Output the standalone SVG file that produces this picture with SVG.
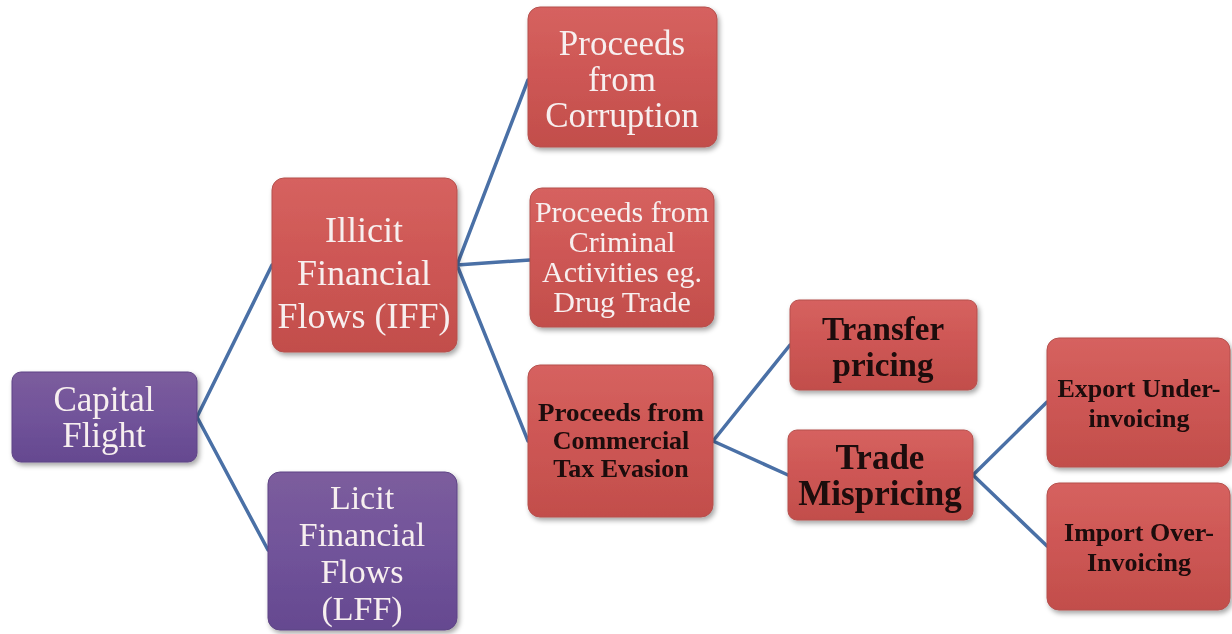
<svg xmlns="http://www.w3.org/2000/svg" width="1232" height="634" viewBox="0 0 1232 634">
<style>
.red{fill:url(#gr);stroke:#b5504d;stroke-width:1}
.pur{fill:url(#gp);stroke:#5f4585;stroke-width:1}
.lt{font-family:"Liberation Serif",serif;fill:#f7efef;text-anchor:middle}
.dk{font-family:"Liberation Serif",serif;fill:#1a0808;font-weight:bold;text-anchor:middle}
.ln{stroke:#4a70a6;stroke-width:3.5;fill:none;stroke-linecap:round}
</style>
<defs>
<linearGradient id="gr" x1="0" y1="0" x2="0" y2="1"><stop offset="0" stop-color="#d6625f"/><stop offset="0.5" stop-color="#cd5654"/><stop offset="1" stop-color="#c24e4b"/></linearGradient>
<linearGradient id="gp" x1="0" y1="0" x2="0" y2="1"><stop offset="0" stop-color="#7c5d9d"/><stop offset="0.5" stop-color="#71539a"/><stop offset="1" stop-color="#654990"/></linearGradient>
<filter id="sh" x="-10%" y="-10%" width="130%" height="130%"><feDropShadow dx="2" dy="3" stdDeviation="2.5" flood-color="#000" flood-opacity="0.35"/></filter>
</defs>
<g id="connectors">
<path class="ln" d="M197 417 L272 265 M197 417 L268 550"/>
<path class="ln" d="M457 265 L528 80 M457 265 L530 260 M457 265 L528 441"/>
<path class="ln" d="M713 441 L790 345 M713 441 L788 475"/>
<path class="ln" d="M973 475 L1047 402 M973 475 L1047 546"/>
</g>
<g id="capital-flight" filter="url(#sh)">
<rect class="pur" x="12" y="372" width="185" height="90" rx="9"/>
<text class="lt" font-size="35" x="104" y="411">Capital</text>
<text class="lt" font-size="35" x="104" y="447">Flight</text>
</g>
<g id="iff" filter="url(#sh)">
<rect class="red" x="272" y="178" width="185" height="174" rx="12"/>
<text class="lt" font-size="36" x="364" y="242">Illicit</text>
<text class="lt" font-size="36" x="364" y="285">Financial</text>
<text class="lt" font-size="36" x="364" y="328">Flows (IFF)</text>
</g>
<g id="lff" filter="url(#sh)">
<rect class="pur" x="268" y="472" width="189" height="158" rx="12"/>
<text class="lt" font-size="34" x="362" y="509">Licit</text>
<text class="lt" font-size="34" x="362" y="546">Financial</text>
<text class="lt" font-size="34" x="362" y="583">Flows</text>
<text class="lt" font-size="34" x="362" y="620">(LFF)</text>
</g>
<g id="corruption" filter="url(#sh)">
<rect class="red" x="528" y="7" width="189" height="140" rx="12"/>
<text class="lt" font-size="35" x="622" y="55">Proceeds</text>
<text class="lt" font-size="35" x="622" y="91">from</text>
<text class="lt" font-size="35" x="622" y="127">Corruption</text>
</g>
<g id="criminal" filter="url(#sh)">
<rect class="red" x="530" y="188" width="184" height="139" rx="12"/>
<text class="lt" font-size="30" x="622" y="222">Proceeds from</text>
<text class="lt" font-size="30" x="622" y="252">Criminal</text>
<text class="lt" font-size="30" x="622" y="282">Activities eg.</text>
<text class="lt" font-size="30" x="622" y="312">Drug Trade</text>
</g>
<g id="commercial" filter="url(#sh)">
<rect class="red" x="528" y="365" width="185" height="152" rx="12"/>
<text class="dk" font-size="26" x="621" y="421" textLength="166" lengthAdjust="spacingAndGlyphs">Proceeds from</text>
<text class="dk" font-size="26" x="621" y="449">Commercial</text>
<text class="dk" font-size="26" x="621" y="477">Tax Evasion</text>
</g>
<g id="transfer" filter="url(#sh)">
<rect class="red" x="790" y="300" width="187" height="90" rx="9"/>
<text class="dk" font-size="33" x="883" y="340">Transfer</text>
<text class="dk" font-size="33" x="883" y="376">pricing</text>
</g>
<g id="trade" filter="url(#sh)">
<rect class="red" x="788" y="430" width="185" height="90" rx="9"/>
<text class="dk" font-size="35" x="880" y="469">Trade</text>
<text class="dk" font-size="35" x="880" y="505">Mispricing</text>
</g>
<g id="export" filter="url(#sh)">
<rect class="red" x="1047" y="338" width="183" height="129" rx="12"/>
<text class="dk" font-size="26" x="1139" y="397">Export Under-</text>
<text class="dk" font-size="26" x="1139" y="427">invoicing</text>
</g>
<g id="import" filter="url(#sh)">
<rect class="red" x="1047" y="483" width="183" height="127" rx="12"/>
<text class="dk" font-size="26" x="1139" y="541">Import Over-</text>
<text class="dk" font-size="26" x="1139" y="571">Invoicing</text>
</g>
</svg>
